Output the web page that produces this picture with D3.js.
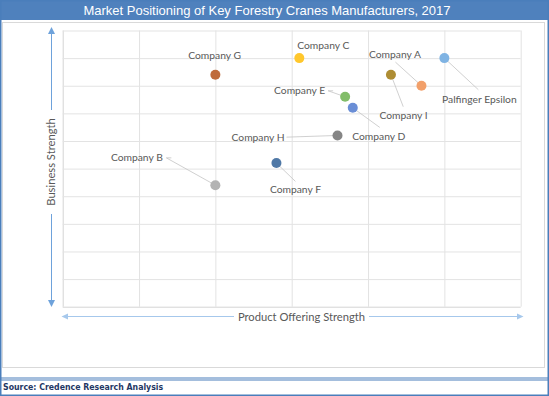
<!DOCTYPE html>
<html><head><meta charset="utf-8">
<script src="https://cdn.jsdelivr.net/npm/d3@7"></script>
<style>body{margin:0;background:#fff}svg{display:block}</style>
</head><body>
<script>
// ---- data ----
const companies = ["Palfinger Epsilon","Company A","Company B","Company C","Company D","Company E","Company F","Company G","Company H","Company I"];
const productOfferingStrength = [5.0, 4.7, 2.0, 3.1, 3.8, 3.7, 2.8, 2.0, 3.6, 4.3];
const businessStrength =        [9.0, 8.0, 4.4, 9.0, 7.2, 7.6, 5.2, 8.4, 6.2, 8.4];
const xTicks = [0,1,2,3,4,5,6];
const yTicks = [0,1,2,3,4,5,6,7,8,9,10];
const title = "Market Positioning of Key Forestry Cranes Manufacturers, 2017";
const xTitle = "Product Offering Strength";
const yTitle = "Business Strength";
const source = "Source: Credence Research Analysis";

// ---- styling / layout ----
const colors = ["#7fb3e3","#f2a06a","#b3b3b3","#ffc72c","#6a8ed6","#82bd69","#4f78a6","#bf6b3c","#858585","#ae8d34"];
// label center offsets [dx, dy] relative to point, and leader path (offsets) or null
const labelOffsets = [[35,41],[-26.5,-31.6],[-78.5,-27.3],[24,-12.7],[26,29],[-45.5,-6],[19,26.3],[-0.7,-19.3],[-79.4,1.7],[12.6,41]];
const leaders = [
  [[34,31.6]],
  [[-26,-23.6]],
  [[-44,-27.3],[-49,-27.3]],
  null,
  [[27,19.6]],
  [[-12,-6],[-17,-6]],
  [[19,18.3]],
  null,
  [[-51,1.7]],
  [[12.3,32]]
];

const W = 549, H = 396;
const svg = d3.select("body").append("svg").attr("width", W).attr("height", H);

// frame
svg.append("rect").attr("x",0).attr("y",0).attr("width",W).attr("height",20).attr("fill","#4f81bd");
svg.append("rect").attr("x",2.5).attr("y",22.5).attr("width",542).attr("height",345).attr("fill","none").attr("stroke","#d9d9d9");
svg.append("line").attr("x1",0).attr("x2",W).attr("y1",378).attr("y2",378).attr("stroke","#4a7ebb").attr("stroke-width",1.2);
svg.append("line").attr("x1",0).attr("x2",W).attr("y1",380).attr("y2",380).attr("stroke","#4a7ebb").attr("stroke-width",1.2);
svg.append("rect").attr("x",0.75).attr("y",0.75).attr("width",W-1.5).attr("height",H-1.5).attr("fill","none").attr("stroke","#4a7ebb").attr("stroke-width",1.5);

svg.append("text").attr("x",267).attr("y",14.5).attr("text-anchor","middle")
  .attr("font-family","'Liberation Sans', Arial, sans-serif").attr("font-size",13).attr("fill","#fff").text(title);
svg.append("text").attr("x",3).attr("y",389.5)
  .attr("font-family","'DejaVu Sans Condensed','DejaVu Sans', sans-serif").attr("font-weight","bold")
  .attr("font-size",8.7).attr("fill","#1f3864").text(source);

// scales
const x = d3.scaleLinear().domain([0,6]).range([62.7,520.7]);
const y = d3.scaleLinear().domain([0,10]).range([306.7,30.5]);

// grid via axes
const gx = svg.append("g").attr("transform",`translate(0,${y(0)})`)
  .call(d3.axisBottom(x).tickValues(xTicks).tickSize(-(y(0)-y(10))).tickFormat(""));
const gy = svg.append("g").attr("transform",`translate(${x(0)},0)`)
  .call(d3.axisLeft(y).tickValues(yTicks).tickSize(-(x(6)-x(0))).tickFormat(""));
[gx,gy].forEach(g=>{
  g.select(".domain").remove();
  g.selectAll(".tick line").attr("stroke","#e3e3e3").attr("stroke-width",1);
});
gx.selectAll(".tick").filter(d=>d===0).select("line").attr("stroke","#d4d4d4");
gy.selectAll(".tick").filter(d=>d===0).select("line").attr("stroke","#d4d4d4");

// axis arrows
const fontLab = "Lato, 'Open Sans', sans-serif";
const yCol = "#6ea2db", xCol = "#a6c8ec";
svg.append("line").attr("x1",51.5).attr("x2",51.5).attr("y1",32).attr("y2",110).attr("stroke",yCol);
svg.append("line").attr("x1",51.5).attr("x2",51.5).attr("y1",214).attr("y2",302).attr("stroke",yCol);
svg.append("path").attr("d","M51.5,27 L48,34 L55,34 Z").attr("fill",yCol);
svg.append("path").attr("d","M51.5,307 L48,300 L55,300 Z").attr("fill",yCol);
svg.append("text").attr("transform","translate(54.5,162) rotate(-90)").attr("text-anchor","middle")
  .attr("font-family",fontLab).attr("font-size",11.2).attr("fill","#595959").text(yTitle);

svg.append("line").attr("x1",66).attr("x2",234).attr("y1",316.5).attr("y2",316.5).attr("stroke",xCol);
svg.append("line").attr("x1",369).attr("x2",518).attr("y1",316.5).attr("y2",316.5).attr("stroke",xCol);
svg.append("path").attr("d","M61.5,316.5 L68,313.5 L68,319.5 Z").attr("fill",xCol);
svg.append("path").attr("d","M523.5,316.5 L517,313.5 L517,319.5 Z").attr("fill",xCol);
svg.append("text").attr("x",301.5).attr("y",320.5).attr("text-anchor","middle")
  .attr("font-family",fontLab).attr("font-size",11.2).attr("fill","#595959").text(xTitle);

// points
const pts = companies.map((c,i)=>({name:c, px:x(productOfferingStrength[i]), py:y(businessStrength[i]), i}));
const lineGen = d3.line();
svg.append("g").selectAll("path").data(pts.filter(d=>leaders[d.i]))
  .join("path")
  .attr("d",d=>lineGen([[d.px,d.py], ...leaders[d.i].map(o=>[d.px+o[0], d.py+o[1]]).reverse()]))
  .attr("fill","none").attr("stroke","#c4c4c4").attr("stroke-width",0.8);
svg.append("g").selectAll("circle").data(pts).join("circle")
  .attr("cx",d=>d.px).attr("cy",d=>d.py).attr("r",5)
  .attr("fill",d=>colors[d.i]);
svg.append("g").selectAll("text").data(pts).join("text")
  .attr("x",d=>d.px+labelOffsets[d.i][0]).attr("y",d=>d.py+labelOffsets[d.i][1])
  .attr("dy","0.35em").attr("text-anchor","middle")
  .attr("font-family",fontLab).attr("font-size",10.3).attr("fill","#595959")
  .text(d=>d.name);
</script>
</body></html>
